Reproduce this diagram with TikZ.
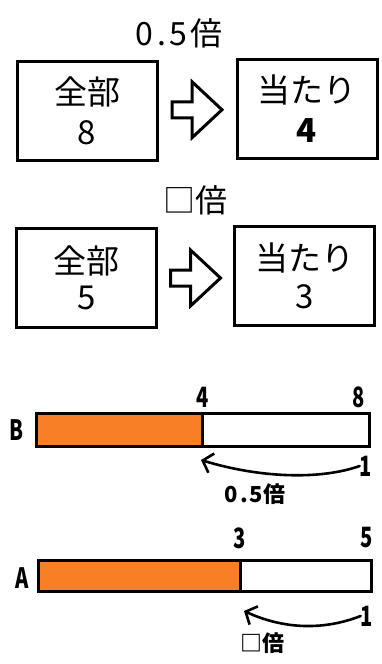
\documentclass[tikz,border=0pt]{standalone}
\usepackage{fontspec}
\setmainfont{Noto Sans CJK JP}
\newfontfamily\narrowjp[FakeStretch=0.72]{Noto Sans CJK JP}
\usetikzlibrary{arrows.meta}
\definecolor{barorange}{RGB}{247,128,38}
\begin{document}
\begin{tikzpicture}[x=1pt,y=-1pt,
  box/.style={draw, line width=3pt, minimum width=140pt, minimum height=99pt,
    align=center, inner sep=0pt, font=\fontsize{33}{40}\selectfont},
  big/.style={inner sep=0pt, font=\fontsize{32}{34}\selectfont},
  small/.style={inner sep=0pt, font=\narrowjp\bfseries\fontsize{28}{28}\selectfont},
  lbl/.style={inner sep=0pt, font=\bfseries\fontsize{22}{24}\selectfont},
  barframe/.style={draw, line width=3pt, inner sep=0pt},
  bigarrow/.style={draw, line width=3pt, line join=miter, fill=white},
  curve/.style={line width=2.6pt, line cap=round,
    -{Straight Barb[length=9pt,width=20pt,line width=2.6pt]}}
]
\useasboundingbox (0,0) rectangle (382,664);

% ---- top row ----
\node[big] (t1) at (179,33) {0\kern4pt.\kern4pt5\kern3pt倍};
\node[box] (b1) at (87,111) {全部\\8};
\node[box] (b2) at (307,108.5) {当たり\\\textbf{4}};
\path (b1.east) -- (b2.west) coordinate[midway] (m1);
\draw[bigarrow] ([shift={(-25,-8)}]m1) -- ++(20,0) -- ++(0,-20) -- ++(30,28)
  -- ++(-30,28) -- ++(0,-20) -- ++(-20,0) -- cycle;

% ---- second row ----
\node[big] (t2) at (195,200) {□倍};
\node[box] (b3) at (86.5,278) {全部\\[-4pt]5};
\node[box] (b4) at (304.5,276) {当たり\\[-2pt]3};
\path (b3.east) -- (b4.west) coordinate[midway] (m2);
\draw[bigarrow] ([shift={(-25,-7)}]m2) -- ++(20,0) -- ++(0,-20) -- ++(30,28)
  -- ++(-30,28) -- ++(0,-20) -- ++(-20,0) -- cycle;

% ---- bar B ----
\node[small] (lB) at (17,430) {B};
\node[barframe, minimum width=333pt, minimum height=33pt] (barB) at (202.5,429.5) {};
\fill[barorange] ([shift={(1.5,1.5)}]barB.north west) rectangle (202,446);
\draw[line width=3pt] (202,413.5) coordinate (divBt) -- (202,445.5) coordinate (divB);
\node[barframe, minimum width=333pt, minimum height=33pt] at (barB) {};
\node[small] (n4) at (203,397) {4};
\node[small] (n8) at (359,397) {8};
\node[small] (oneB) at (366,466) {1};
\coordinate (tipB) at (201,460);
\draw[curve] (oneB.west) .. controls (320,480) and (260,478) .. (tipB);
\node[lbl] (qB) at (255,494) {0\kern2pt.\kern2pt5倍};

% ---- bar A ----
\node[small] (lA) at (22,578) {A};
\node[barframe, minimum width=333pt, minimum height=31pt] (barA) at (204.5,576) {};
\fill[barorange] ([shift={(1.5,1.5)}]barA.north west) rectangle (240,590.5);
\draw[line width=3pt] (240,561.5) -- (240,590.5) coordinate (divA);
\node[barframe, minimum width=333pt, minimum height=31pt] at (barA) {};
\node[small] (n3) at (240,538) {3};
\node[small] (n5) at (367,538) {5};
\node[small] (oneA) at (367,616) {1};
\coordinate (tipA) at (244,611);
\draw[curve] (oneA.west) .. controls (330,628) and (290,632) .. (tipA);
\node[lbl] (qA) at (262,643) {□倍};
\end{tikzpicture}
\end{document}
